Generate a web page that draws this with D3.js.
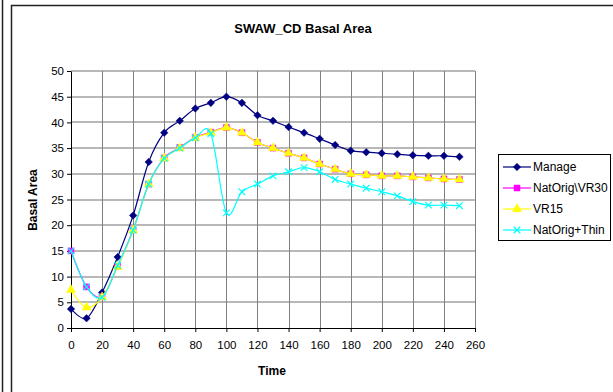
<!DOCTYPE html>
<html>
<head>
<meta charset="utf-8">
<script src="https://cdn.jsdelivr.net/npm/d3@7"></script>
<style>
  body { margin: 0; background: #fff; }
  text { font-family: "Liberation Sans", Arial, sans-serif; }
</style>
</head>
<body>
<script>
var times = [0, 10, 20, 30, 40, 50, 60, 70, 80, 90, 100, 110, 120, 130, 140, 150, 160, 170, 180, 190, 200, 210, 220, 230, 240, 250];
var manage = [3.7, 1.9, 6.9, 13.8, 21.9, 32.3, 38.0, 40.3, 42.7, 43.8, 45.0, 43.8, 41.4, 40.3, 39.1, 38.0, 36.8, 35.6, 34.5, 34.2, 34.0, 33.8, 33.6, 33.5, 33.5, 33.3];
var natOrigVR30 = [15.0, 8.0, 6.1, 12.0, 19.1, 28.0, 33.1, 35.1, 37.1, 38.1, 39.0, 38.0, 36.1, 35.0, 34.0, 33.1, 31.9, 30.9, 30.0, 29.8, 29.6, 29.6, 29.4, 29.2, 29.0, 28.9];
var vr15 = [7.4, 4.0, 6.0, 11.9, 19.0, 28.0, 33.0, 35.0, 37.0, 38.0, 39.0, 38.0, 36.1, 35.0, 34.0, 33.1, 31.9, 30.9, 30.0, 29.8, 29.6, 29.6, 29.4, 29.2, 29.0, 28.9];
var natOrigThin = [15.0, 8.0, 6.0, 12.2, 19.0, 28.0, 33.0, 35.0, 37.0, 37.8, 22.4, 26.5, 28.0, 29.6, 30.4, 31.2, 30.4, 28.9, 28.0, 27.2, 26.5, 25.7, 24.6, 23.9, 23.9, 23.8];
var xTicks = [0, 20, 40, 60, 80, 100, 120, 140, 160, 180, 200, 220, 240, 260];
var yTicks = [0, 5, 10, 15, 20, 25, 30, 35, 40, 45, 50];

var series = [
  { name: "Manage", values: manage, color: "#000080", marker: d3.symbolDiamond2 },
  { name: "NatOrig\\VR30", values: natOrigVR30, color: "#ff00ff", marker: d3.symbolSquare },
  { name: "VR15", values: vr15, color: "#ffff00", marker: d3.symbolTriangle },
  { name: "NatOrig+Thin", values: natOrigThin, color: "#00ffff", marker: d3.symbolTimes }
];

var width = 613, height = 392;
var plotLeft = 71, plotRight = 475, plotTop = 71, plotBottom = 328;

var svg = d3.select("body").append("svg")
  .attr("width", width)
  .attr("height", height);

// outer frames
svg.append("line")
  .attr("x1", 2.5).attr("x2", 2.5).attr("y1", 0).attr("y2", height)
  .attr("stroke", "#222").attr("stroke-width", 1.5);
svg.append("rect")
  .attr("x", 11.5).attr("y", 5.5).attr("width", 700).attr("height", 500)
  .attr("fill", "none").attr("stroke", "#222").attr("stroke-width", 1.5);

var x = d3.scaleLinear().domain([0, 260]).range([plotLeft, plotRight]);
var y = d3.scaleLinear().domain([0, 50]).range([plotBottom, plotTop]);

// gridlines
svg.selectAll(".hgrid")
  .data(yTicks.slice(1))
  .enter().append("line")
  .attr("x1", plotLeft).attr("x2", plotRight)
  .attr("y1", function(d) { return Math.round(y(d)); })
  .attr("y2", function(d) { return Math.round(y(d)); })
  .attr("stroke", "#a0a0a0").attr("stroke-width", 1.6);

svg.selectAll(".vgrid")
  .data(xTicks.slice(1))
  .enter().append("line")
  .attr("x1", function(d) { return Math.round(x(d)) + 0.5; })
  .attr("x2", function(d) { return Math.round(x(d)) + 0.5; })
  .attr("y1", plotTop).attr("y2", plotBottom)
  .attr("stroke", "#808080").attr("stroke-width", 1);

// axes
var xAxis = svg.append("g")
  .attr("transform", "translate(0," + plotBottom + ")")
  .call(d3.axisBottom(x).tickValues(xTicks).tickSize(4).tickSizeOuter(0));
var yAxis = svg.append("g")
  .attr("transform", "translate(" + plotLeft + ",0)")
  .call(d3.axisLeft(y).tickValues(yTicks).tickSize(4).tickSizeOuter(0));

[xAxis, yAxis].forEach(function(a) {
  a.select(".domain").attr("stroke", "#000");
  a.selectAll(".tick line").attr("stroke", "#000");
  a.selectAll("text").attr("fill", "#000")
    .style("font-size", "11.5px")
    .style("font-family", "'Liberation Sans', Arial, sans-serif");
});
xAxis.selectAll("text").attr("dy", "1.25em");
yAxis.selectAll("text").attr("x", -7);

// lines and markers
var line = d3.line()
  .x(function(d) { return x(d.t); })
  .y(function(d) { return y(d.v); })
  .curve(d3.curveCardinal.tension(0));

series.forEach(function(s) {
  var pts = times.map(function(t, i) { return { t: t, v: s.values[i] }; });
  svg.append("path")
    .datum(pts)
    .attr("d", line)
    .attr("fill", "none")
    .attr("stroke", s.color)
    .attr("stroke-width", 1.2);
  svg.selectAll(null)
    .data(pts)
    .enter().append("path")
    .attr("transform", function(d) { return "translate(" + x(d.t) + "," + y(d.v) + ")"; })
    .attr("d", d3.symbol().type(s.marker).size(s.marker === d3.symbolTimes ? 30 : 36))
    .attr("fill", s.marker === d3.symbolTimes ? "none" : s.color)
    .attr("stroke", s.color)
    .attr("stroke-width", s.marker === d3.symbolTimes ? 1.2 : 0.5);
});

// title and axis titles
svg.append("text")
  .attr("x", 303).attr("y", 33)
  .attr("text-anchor", "middle")
  .style("font-size", "13px").style("font-weight", "bold")
  .text("SWAW_CD Basal Area");

svg.append("text")
  .attr("x", 272).attr("y", 375)
  .attr("text-anchor", "middle")
  .style("font-size", "12px").style("font-weight", "bold")
  .text("Time");

svg.append("text")
  .attr("transform", "translate(37,200) rotate(-90)")
  .attr("text-anchor", "middle")
  .style("font-size", "12px").style("font-weight", "bold")
  .text("Basal Area");

// legend
var legend = svg.append("g");
legend.append("rect")
  .attr("x", 498.5).attr("y", 154.5).attr("width", 112).attr("height", 86)
  .attr("fill", "#fff").attr("stroke", "#000").attr("stroke-width", 1);

var items = legend.selectAll(".item")
  .data(series)
  .enter().append("g")
  .attr("transform", function(d, i) { return "translate(0," + (167 + i * 21) + ")"; });

items.append("line")
  .attr("x1", 503).attr("x2", 531).attr("y1", 0).attr("y2", 0)
  .attr("stroke", function(d) { return d.color; })
  .attr("stroke-width", 1.2);
items.append("path")
  .attr("transform", "translate(517,0)")
  .attr("d", function(d) { return d3.symbol().type(d.marker).size(d.marker === d3.symbolTimes ? 30 : 36)(); })
  .attr("fill", function(d) { return d.marker === d3.symbolTimes ? "none" : d.color; })
  .attr("stroke", function(d) { return d.color; })
  .attr("stroke-width", function(d) { return d.marker === d3.symbolTimes ? 1.2 : 0.5; });
items.append("text")
  .attr("x", 533).attr("y", 4)
  .style("font-size", "12px")
  .text(function(d) { return d.name; });
</script>
</body>
</html>
